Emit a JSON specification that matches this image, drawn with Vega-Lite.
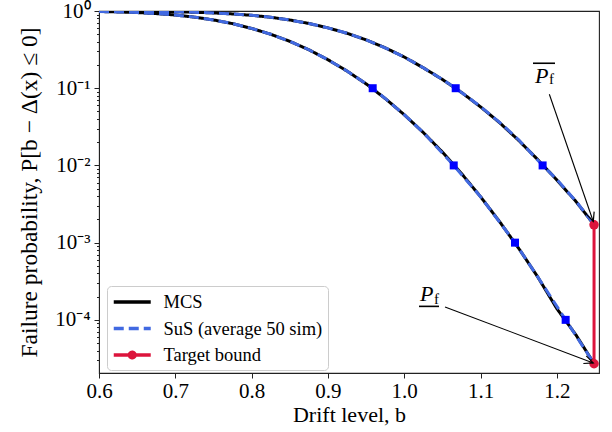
{
  "$schema": "https://vega.github.io/schema/vega-lite/v6.json",
  "width": 500,
  "height": 362,
  "autosize": "none",
  "padding": {"left": 99, "top": 11, "right": 13, "bottom": 59},
  "background": "white",
  "config": {
    "font": "Liberation Serif",
    "view": {"stroke": "#222222", "strokeWidth": 1.1},
    "axis": {
      "grid": false,
      "labelFont": "Liberation Serif",
      "titleFont": "Liberation Serif",
      "labelColor": "black",
      "titleColor": "black",
      "tickColor": "#222222",
      "domainColor": "#222222",
      "titleFontWeight": "normal",
      "labelFontSize": 21,
      "titleFontSize": 22
    },
    "legend": {"labelFont": "Liberation Serif", "labelFontSize": 18.5}
  },
  "datasets": {
    "curves": [
      {"method": "MCS", "curve": "upper", "b": 0.6, "P": 0.998},
      {"method": "MCS", "curve": "upper", "b": 0.65, "P": 0.993},
      {"method": "MCS", "curve": "upper", "b": 0.7, "P": 0.979},
      {"method": "MCS", "curve": "upper", "b": 0.725, "P": 0.964},
      {"method": "MCS", "curve": "upper", "b": 0.75, "P": 0.945},
      {"method": "MCS", "curve": "upper", "b": 0.775, "P": 0.916},
      {"method": "MCS", "curve": "upper", "b": 0.8, "P": 0.88},
      {"method": "MCS", "curve": "upper", "b": 0.825, "P": 0.83},
      {"method": "MCS", "curve": "upper", "b": 0.85, "P": 0.765},
      {"method": "MCS", "curve": "upper", "b": 0.875, "P": 0.69},
      {"method": "MCS", "curve": "upper", "b": 0.9, "P": 0.605},
      {"method": "MCS", "curve": "upper", "b": 0.925, "P": 0.515},
      {"method": "MCS", "curve": "upper", "b": 0.95, "P": 0.423},
      {"method": "MCS", "curve": "upper", "b": 0.975, "P": 0.334},
      {"method": "MCS", "curve": "upper", "b": 1.0, "P": 0.254},
      {"method": "MCS", "curve": "upper", "b": 1.025, "P": 0.184},
      {"method": "MCS", "curve": "upper", "b": 1.05, "P": 0.13},
      {"method": "MCS", "curve": "upper", "b": 1.075, "P": 0.0883},
      {"method": "MCS", "curve": "upper", "b": 1.1, "P": 0.0574},
      {"method": "MCS", "curve": "upper", "b": 1.125, "P": 0.0358},
      {"method": "MCS", "curve": "upper", "b": 1.15, "P": 0.0211},
      {"method": "MCS", "curve": "upper", "b": 1.175, "P": 0.0119},
      {"method": "MCS", "curve": "upper", "b": 1.2, "P": 0.0065},
      {"method": "MCS", "curve": "upper", "b": 1.225, "P": 0.00342},
      {"method": "MCS", "curve": "upper", "b": 1.249, "P": 0.0017},
      {"method": "MCS", "curve": "lower", "b": 0.6, "P": 0.985},
      {"method": "MCS", "curve": "lower", "b": 0.625, "P": 0.973},
      {"method": "MCS", "curve": "lower", "b": 0.65, "P": 0.955},
      {"method": "MCS", "curve": "lower", "b": 0.675, "P": 0.926},
      {"method": "MCS", "curve": "lower", "b": 0.7, "P": 0.887},
      {"method": "MCS", "curve": "lower", "b": 0.725, "P": 0.833},
      {"method": "MCS", "curve": "lower", "b": 0.75, "P": 0.766},
      {"method": "MCS", "curve": "lower", "b": 0.775, "P": 0.686},
      {"method": "MCS", "curve": "lower", "b": 0.8, "P": 0.595},
      {"method": "MCS", "curve": "lower", "b": 0.825, "P": 0.5},
      {"method": "MCS", "curve": "lower", "b": 0.85, "P": 0.405},
      {"method": "MCS", "curve": "lower", "b": 0.875, "P": 0.315},
      {"method": "MCS", "curve": "lower", "b": 0.9, "P": 0.234},
      {"method": "MCS", "curve": "lower", "b": 0.925, "P": 0.167},
      {"method": "MCS", "curve": "lower", "b": 0.95, "P": 0.114},
      {"method": "MCS", "curve": "lower", "b": 0.975, "P": 0.0737},
      {"method": "MCS", "curve": "lower", "b": 1.0, "P": 0.0454},
      {"method": "MCS", "curve": "lower", "b": 1.025, "P": 0.0267},
      {"method": "MCS", "curve": "lower", "b": 1.05, "P": 0.0149},
      {"method": "MCS", "curve": "lower", "b": 1.075, "P": 0.00787},
      {"method": "MCS", "curve": "lower", "b": 1.1, "P": 0.00394},
      {"method": "MCS", "curve": "lower", "b": 1.125, "P": 0.00187},
      {"method": "MCS", "curve": "lower", "b": 1.15, "P": 0.000845},
      {"method": "MCS", "curve": "lower", "b": 1.175, "P": 0.00036},
      {"method": "MCS", "curve": "lower", "b": 1.2, "P": 0.00014},
      {"method": "MCS", "curve": "lower", "b": 1.225, "P": 0.000064},
      {"method": "MCS", "curve": "lower", "b": 1.249, "P": 0.000027},
      {"method": "SuS (average 50 sim)", "curve": "upper", "b": 0.6, "P": 0.998},
      {"method": "SuS (average 50 sim)", "curve": "upper", "b": 0.65, "P": 0.993},
      {"method": "SuS (average 50 sim)", "curve": "upper", "b": 0.7, "P": 0.979},
      {"method": "SuS (average 50 sim)", "curve": "upper", "b": 0.725, "P": 0.964},
      {"method": "SuS (average 50 sim)", "curve": "upper", "b": 0.75, "P": 0.945},
      {"method": "SuS (average 50 sim)", "curve": "upper", "b": 0.775, "P": 0.916},
      {"method": "SuS (average 50 sim)", "curve": "upper", "b": 0.8, "P": 0.88},
      {"method": "SuS (average 50 sim)", "curve": "upper", "b": 0.825, "P": 0.83},
      {"method": "SuS (average 50 sim)", "curve": "upper", "b": 0.85, "P": 0.765},
      {"method": "SuS (average 50 sim)", "curve": "upper", "b": 0.875, "P": 0.69},
      {"method": "SuS (average 50 sim)", "curve": "upper", "b": 0.9, "P": 0.605},
      {"method": "SuS (average 50 sim)", "curve": "upper", "b": 0.925, "P": 0.515},
      {"method": "SuS (average 50 sim)", "curve": "upper", "b": 0.95, "P": 0.423},
      {"method": "SuS (average 50 sim)", "curve": "upper", "b": 0.975, "P": 0.334},
      {"method": "SuS (average 50 sim)", "curve": "upper", "b": 1.0, "P": 0.254},
      {"method": "SuS (average 50 sim)", "curve": "upper", "b": 1.025, "P": 0.184},
      {"method": "SuS (average 50 sim)", "curve": "upper", "b": 1.05, "P": 0.13},
      {"method": "SuS (average 50 sim)", "curve": "upper", "b": 1.0675, "P": 0.1},
      {"method": "SuS (average 50 sim)", "curve": "upper", "b": 1.1, "P": 0.0578},
      {"method": "SuS (average 50 sim)", "curve": "upper", "b": 1.125, "P": 0.0362},
      {"method": "SuS (average 50 sim)", "curve": "upper", "b": 1.15, "P": 0.0215},
      {"method": "SuS (average 50 sim)", "curve": "upper", "b": 1.1814, "P": 0.01},
      {"method": "SuS (average 50 sim)", "curve": "upper", "b": 1.2, "P": 0.0066},
      {"method": "SuS (average 50 sim)", "curve": "upper", "b": 1.225, "P": 0.00345},
      {"method": "SuS (average 50 sim)", "curve": "upper", "b": 1.249, "P": 0.0017},
      {"method": "SuS (average 50 sim)", "curve": "lower", "b": 0.6, "P": 0.985},
      {"method": "SuS (average 50 sim)", "curve": "lower", "b": 0.625, "P": 0.973},
      {"method": "SuS (average 50 sim)", "curve": "lower", "b": 0.65, "P": 0.955},
      {"method": "SuS (average 50 sim)", "curve": "lower", "b": 0.675, "P": 0.926},
      {"method": "SuS (average 50 sim)", "curve": "lower", "b": 0.7, "P": 0.887},
      {"method": "SuS (average 50 sim)", "curve": "lower", "b": 0.725, "P": 0.833},
      {"method": "SuS (average 50 sim)", "curve": "lower", "b": 0.75, "P": 0.766},
      {"method": "SuS (average 50 sim)", "curve": "lower", "b": 0.775, "P": 0.686},
      {"method": "SuS (average 50 sim)", "curve": "lower", "b": 0.8, "P": 0.595},
      {"method": "SuS (average 50 sim)", "curve": "lower", "b": 0.825, "P": 0.5},
      {"method": "SuS (average 50 sim)", "curve": "lower", "b": 0.85, "P": 0.405},
      {"method": "SuS (average 50 sim)", "curve": "lower", "b": 0.875, "P": 0.315},
      {"method": "SuS (average 50 sim)", "curve": "lower", "b": 0.9, "P": 0.234},
      {"method": "SuS (average 50 sim)", "curve": "lower", "b": 0.925, "P": 0.167},
      {"method": "SuS (average 50 sim)", "curve": "lower", "b": 0.9587, "P": 0.1},
      {"method": "SuS (average 50 sim)", "curve": "lower", "b": 0.975, "P": 0.0737},
      {"method": "SuS (average 50 sim)", "curve": "lower", "b": 1.0, "P": 0.0454},
      {"method": "SuS (average 50 sim)", "curve": "lower", "b": 1.025, "P": 0.0267},
      {"method": "SuS (average 50 sim)", "curve": "lower", "b": 1.0649, "P": 0.01},
      {"method": "SuS (average 50 sim)", "curve": "lower", "b": 1.1, "P": 0.00394},
      {"method": "SuS (average 50 sim)", "curve": "lower", "b": 1.1452, "P": 0.001},
      {"method": "SuS (average 50 sim)", "curve": "lower", "b": 1.175, "P": 0.00036},
      {"method": "SuS (average 50 sim)", "curve": "lower", "b": 1.2116, "P": 0.0001},
      {"method": "SuS (average 50 sim)", "curve": "lower", "b": 1.249, "P": 0.000027}
    ],
    "levels": [
      {"curve": "upper", "b": 1.0675, "P": 0.1},
      {"curve": "upper", "b": 1.1814, "P": 0.01},
      {"curve": "lower", "b": 0.9587, "P": 0.1},
      {"curve": "lower", "b": 1.0649, "P": 0.01},
      {"curve": "lower", "b": 1.1452, "P": 0.001},
      {"curve": "lower", "b": 1.2116, "P": 0.0001}
    ],
    "target": [
      {"method": "Target bound", "bound": "upper", "b": 1.2488, "P": 0.0017},
      {"method": "Target bound", "bound": "lower", "b": 1.2488, "P": 0.000027}
    ],
    "arrows": [
      {"name": "upper", "b": 1.1902, "P": 0.0836, "b2": 1.2478, "P2": 0.00188},
      {"name": "lower", "b": 1.0535, "P": 0.000147, "b2": 1.2477, "P2": 0.0000277}
    ],
    "labels": [
      {"name": "upper", "b": 1.1714, "P": 0.117, "text": "P"},
      {"name": "lower", "b": 1.0207, "P": 0.0001735, "text": "P"}
    ],
    "subs": [
      {"name": "upper", "b": 1.1898, "P": 0.112, "text": "f"},
      {"name": "lower", "b": 1.0391, "P": 0.000162, "text": "f"}
    ],
    "bars": [
      {"name": "overline", "b": 1.1688, "b2": 1.1976, "P": 0.2105},
      {"name": "underline", "b": 1.0194, "b2": 1.0456, "P": 0.0001495}
    ]
  },
  "resolve": {"axis": {"x": "independent", "y": "independent"}},
  "layer": [
    {
      "data": {"name": "curves"},
      "transform": [{"filter": "datum.method === 'MCS'"}],
      "mark": {"type": "line", "strokeWidth": 3, "clip": true},
      "encoding": {
        "x": {
          "field": "b", "type": "quantitative",
          "scale": {"domain": [0.6, 1.2553], "nice": false, "zero": false},
          "axis": {
            "orient": "bottom",
            "title": "Drift level, b",
            "values": [0.6, 0.7, 0.8, 0.9, 1.0, 1.1, 1.2],
            "format": ".1f",
            "tickSize": 5,
            "labelPadding": 2,
            "titlePadding": 3,
            "labelFlush": false
          }
        },
        "y": {
          "field": "P", "type": "quantitative",
          "scale": {"type": "log", "domain": [0.0000205, 1], "nice": false},
          "axis": {
            "orient": "left",
            "title": "Failure probability, P[b − Δ(x) ≤ 0]",
            "titleFontSize": 23.5,
            "values": [1, 0.1, 0.01, 0.001, 0.0001],
            "labelExpr": "datum.value > 0.5 ? '10⁰' : datum.value > 0.05 ? '10⁻¹' : datum.value > 0.005 ? '10⁻²' : datum.value > 0.0005 ? '10⁻³' : '10⁻⁴'",
            "tickSize": 5,
            "labelPadding": 4,
            "titlePadding": 13,
            "labelFlush": false
          }
        },
        "detail": {"field": "curve"},
        "color": {
          "field": "method", "type": "nominal",
          "scale": {"domain": ["MCS", "SuS (average 50 sim)", "Target bound"], "range": ["#000000", "#4169e1", "#dc143c"]},
          "legend": {
            "title": null,
            "orient": "none",
            "legendX": 8,
            "legendY": 275,
            "symbolType": "M -1 0 H 3",
            "symbolSize": 342,
            "symbolStrokeWidth": 3.5,
            "labelFont": "Liberation Serif",
            "labelFontSize": 18.5,
            "labelColor": "black",
            "labelOffset": 29.5,
            "rowPadding": 5.5,
            "padding": 5,
            "fillColor": "white",
            "strokeColor": "#cccccc",
            "cornerRadius": 4
          }
        },
        "strokeDash": {
          "field": "method", "type": "nominal",
          "scale": {"domain": ["MCS", "SuS (average 50 sim)", "Target bound"], "range": [[1, 0], [10, 5], [1, 0]]},
          "legend": {
            "title": null,
            "orient": "none",
            "legendX": 8,
            "legendY": 275,
            "symbolType": "M -1 0 H 3",
            "symbolSize": 342,
            "symbolStrokeWidth": 3.5,
            "labelFont": "Liberation Serif",
            "labelFontSize": 18.5,
            "labelColor": "black",
            "labelOffset": 29.5,
            "rowPadding": 5.5,
            "padding": 5,
            "fillColor": "white",
            "strokeColor": "#cccccc",
            "cornerRadius": 4
          }
        }
      }
    },
    {
      "data": {"name": "curves"},
      "transform": [{"filter": "datum.method !== 'MCS'"}],
      "mark": {"type": "line", "strokeWidth": 3, "clip": true},
      "encoding": {
        "x": {"field": "b", "type": "quantitative", "axis": null},
        "y": {
          "field": "P", "type": "quantitative",
          "axis": {
            "orient": "left",
            "title": null,
            "labels": false,
            "domain": false,
            "tickSize": 2.5,
            "values": [0.00003, 0.00004, 0.00005, 0.00006, 0.00007, 0.00008, 0.00009,
                       0.0002, 0.0003, 0.0004, 0.0005, 0.0006, 0.0007, 0.0008, 0.0009,
                       0.002, 0.003, 0.004, 0.005, 0.006, 0.007, 0.008, 0.009,
                       0.02, 0.03, 0.04, 0.05, 0.06, 0.07, 0.08, 0.09,
                       0.2, 0.3, 0.4, 0.5, 0.6, 0.7, 0.8, 0.9]
          }
        },
        "detail": {"field": "curve"},
        "color": {"field": "method", "type": "nominal"},
        "strokeDash": {"field": "method", "type": "nominal"}
      }
    },
    {
      "data": {"name": "levels"},
      "mark": {"type": "point", "shape": "square", "filled": true, "color": "#0000ff", "size": 64, "opacity": 1},
      "encoding": {
        "x": {"field": "b", "type": "quantitative", "axis": null},
        "y": {"field": "P", "type": "quantitative", "axis": null}
      }
    },
    {
      "data": {"name": "target"},
      "mark": {"type": "line", "strokeWidth": 3},
      "encoding": {
        "x": {"field": "b", "type": "quantitative", "axis": null},
        "y": {"field": "P", "type": "quantitative", "axis": null},
        "color": {"field": "method", "type": "nominal"},
        "strokeDash": {"field": "method", "type": "nominal"}
      }
    },
    {
      "data": {"name": "target"},
      "mark": {"type": "point", "shape": "circle", "filled": true, "color": "#dc143c", "size": 90, "opacity": 1},
      "encoding": {
        "x": {"field": "b", "type": "quantitative", "axis": null},
        "y": {"field": "P", "type": "quantitative", "axis": null}
      }
    },
    {
      "data": {"name": "target"},
      "transform": [{"filter": "datum.P < 0"}],
      "mark": {"type": "point", "filled": false, "strokeWidth": 3.5, "opacity": 1},
      "encoding": {
        "x": {"field": "b", "type": "quantitative", "axis": null},
        "y": {"field": "P", "type": "quantitative", "axis": null},
        "color": {"field": "method", "type": "nominal"},
        "shape": {
          "field": "method", "type": "nominal",
          "scale": {
            "domain": ["MCS", "SuS (average 50 sim)", "Target bound"],
            "range": ["M -1 0 H 3", "M -1 0 H 3", "M -1 0 H 3 M 1.3 0 A 0.3 0.3 0 1 1 0.7 0 A 0.3 0.3 0 1 1 1.3 0"]
          },
          "legend": {
            "title": null,
            "orient": "none",
            "legendX": 8,
            "legendY": 275,
            "symbolSize": 342,
            "symbolStrokeWidth": 3.5,
            "labelFont": "Liberation Serif",
            "labelFontSize": 18.5,
            "labelColor": "black",
            "labelOffset": 29.5,
            "rowPadding": 5.5,
            "padding": 5,
            "fillColor": "white",
            "strokeColor": "#cccccc",
            "cornerRadius": 4
          }
        }
      }
    },
    {
      "data": {"name": "arrows"},
      "mark": {"type": "rule", "color": "black", "strokeWidth": 1.1},
      "encoding": {
        "x": {"field": "b", "type": "quantitative", "axis": null},
        "y": {"field": "P", "type": "quantitative", "axis": null},
        "x2": {"field": "b2"},
        "y2": {"field": "P2"}
      }
    },
    {
      "data": {"name": "arrows"},
      "transform": [{"filter": "datum.name === 'upper'"}],
      "mark": {"type": "point", "shape": "M -1 -0.45 L 0 0 L -1 0.45", "filled": false, "stroke": "black", "strokeWidth": 1.2, "size": 324, "angle": 70.9, "opacity": 1},
      "encoding": {
        "x": {"field": "b2", "type": "quantitative", "axis": null},
        "y": {"field": "P2", "type": "quantitative", "axis": null}
      }
    },
    {
      "data": {"name": "arrows"},
      "transform": [{"filter": "datum.name === 'lower'"}],
      "mark": {"type": "point", "shape": "M -1 -0.45 L 0 0 L -1 0.45", "filled": false, "stroke": "black", "strokeWidth": 1.2, "size": 324, "angle": 20.8, "opacity": 1},
      "encoding": {
        "x": {"field": "b2", "type": "quantitative", "axis": null},
        "y": {"field": "P2", "type": "quantitative", "axis": null}
      }
    },
    {
      "data": {"name": "labels"},
      "mark": {"type": "text", "font": "Liberation Serif", "fontStyle": "italic", "fontSize": 22, "align": "left", "baseline": "alphabetic", "color": "black"},
      "encoding": {
        "x": {"field": "b", "type": "quantitative", "axis": null},
        "y": {"field": "P", "type": "quantitative", "axis": null},
        "text": {"field": "text"}
      }
    },
    {
      "data": {"name": "subs"},
      "mark": {"type": "text", "font": "Liberation Serif", "fontSize": 15, "align": "left", "baseline": "alphabetic", "color": "black"},
      "encoding": {
        "x": {"field": "b", "type": "quantitative", "axis": null},
        "y": {"field": "P", "type": "quantitative", "axis": null},
        "text": {"field": "text"}
      }
    },
    {
      "data": {"name": "bars"},
      "mark": {"type": "rule", "color": "black", "strokeWidth": 1.6},
      "encoding": {
        "x": {"field": "b", "type": "quantitative", "axis": null},
        "x2": {"field": "b2"},
        "y": {"field": "P", "type": "quantitative", "axis": null}
      }
    }
  ]
}
